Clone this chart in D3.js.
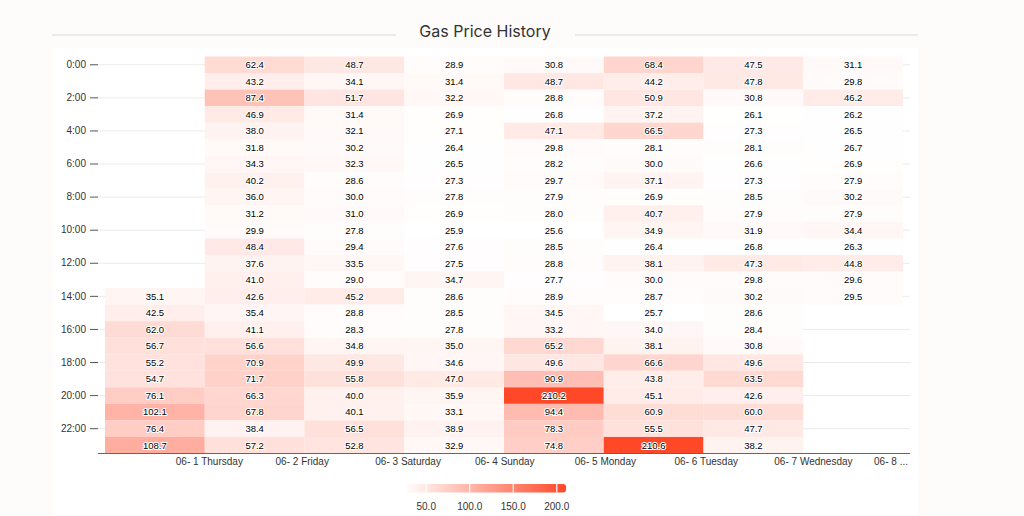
<!DOCTYPE html>
<html>
<head>
<meta charset="utf-8">
<script src="https://d3js.org/d3.v7.min.js"></script>
<style>
  body { margin: 0; background: #fdfcfb; }
  svg { display: block; }
</style>
</head>
<body>
<svg id="chart" width="1024" height="516"></svg>
<script>
// categories
const dates = ["06- 1 Thursday", "06- 2 Friday", "06- 3 Saturday", "06- 4 Sunday",
               "06- 5 Monday", "06- 6 Tuesday", "06- 7 Wednesday", "06- 8 Thursday"];
const hours = ["0:00", "1:00", "2:00", "3:00", "4:00", "5:00", "6:00", "7:00",
               "8:00", "9:00", "10:00", "11:00", "12:00", "13:00", "14:00", "15:00",
               "16:00", "17:00", "18:00", "19:00", "20:00", "21:00", "22:00", "23:00"];
const hourTicks = ["0:00", "2:00", "4:00", "6:00", "8:00", "10:00", "12:00",
                   "14:00", "16:00", "18:00", "20:00", "22:00"];
const legendTicks = [50, 100, 150, 200];

// gas price per hour for each day (null = no data)
const day1 = [null, null, null, null, null, null, null, null, null, null, null, null, null, null,
              35.1, 42.5, 62.0, 56.7, 55.2, 54.7, 76.1, 102.1, 76.4, 108.7];
const day2 = [62.4, 43.2, 87.4, 46.9, 38.0, 31.8, 34.3, 40.2, 36.0, 31.2, 29.9, 48.4,
              37.6, 41.0, 42.6, 35.4, 41.1, 56.6, 70.9, 71.7, 66.3, 67.8, 38.4, 57.2];
const day3 = [48.7, 34.1, 51.7, 31.4, 32.1, 30.2, 32.3, 28.6, 30.0, 31.0, 27.8, 29.4,
              33.5, 29.0, 45.2, 28.8, 28.3, 34.8, 49.9, 55.8, 40.0, 40.1, 56.5, 52.8];
const day4 = [28.9, 31.4, 32.2, 26.9, 27.1, 26.4, 26.5, 27.3, 27.8, 26.9, 25.9, 27.6,
              27.5, 34.7, 28.6, 28.5, 27.8, 35.0, 34.6, 47.0, 35.9, 33.1, 38.9, 32.9];
const day5 = [30.8, 48.7, 28.8, 26.8, 47.1, 29.8, 28.2, 29.7, 27.9, 28.0, 25.6, 28.5,
              28.8, 27.7, 28.9, 34.5, 33.2, 65.2, 49.6, 90.9, 210.2, 94.4, 78.3, 74.8];
const day6 = [68.4, 44.2, 50.9, 37.2, 66.5, 28.1, 30.0, 37.1, 26.9, 40.7, 34.9, 26.4,
              38.1, 30.0, 28.7, 25.7, 34.0, 38.1, 66.6, 43.8, 45.1, 60.9, 55.5, 210.6];
const day7 = [47.5, 47.8, 30.8, 26.1, 27.3, 28.1, 26.6, 27.3, 28.5, 27.9, 31.9, 26.8,
              47.3, 29.8, 30.2, 28.6, 28.4, 30.8, 49.6, 63.5, 42.6, 60.0, 47.7, 38.2];
const day8 = [31.1, 29.8, 46.2, 26.2, 26.5, 26.7, 26.9, 27.9, 30.2, 27.9, 34.4, 26.3,
              44.8, 29.6, 29.5, null, null, null, null, null, null, null, null, null];
const series = [day1, day2, day3, day4, day5, day6, day7, day8];

// flatten into cells
let cells = [];
series.forEach((vals, i) => {
    vals.forEach((v, h) => {
        if (v != null) cells.push({date: dates[i], hour: hours[h], value: v});
    });
});

const svg = d3.select("svg#chart");

// white panel + title
svg.append("rect").attr("x", 53).attr("y", 48).attr("width", 865).attr("height", 468)
    .style("fill", "#ffffff");
svg.append("line").attr("x1", 52).attr("x2", 396).attr("y1", 35).attr("y2", 35)
    .style("stroke", "#ebebeb").style("stroke-width", 2);
svg.append("line").attr("x1", 575).attr("x2", 918).attr("y1", 35).attr("y2", 35)
    .style("stroke", "#ebebeb").style("stroke-width", 2);
svg.append("text").attr("x", 485).attr("y", 37).attr("text-anchor", "middle")
    .style("font-family", "Inter, sans-serif").style("font-size", "16px").style("fill", "#333")
    .text("Gas Price History");

const x = d3.scaleBand().domain(dates).range([105, 903]);
const y = d3.scaleBand().domain(hours).range([56.5, 453.5]);

const extent = d3.extent(cells, d => d.value);
const color = d3.scaleSequential(d3.interpolateRgb("#ffffff", "#ff4828")).domain(extent);

// grid lines
svg.selectAll("line.grid").data(hourTicks).join("line")
    .attr("class", "grid")
    .attr("x1", 98).attr("x2", 910)
    .attr("y1", d => y(d) + y.bandwidth() / 2)
    .attr("y2", d => y(d) + y.bandwidth() / 2)
    .style("stroke", "#ebebeb").style("stroke-width", 1);

// cells
svg.selectAll("rect.cell").data(cells).join("rect")
    .attr("class", "cell")
    .attr("x", d => x(d.date))
    .attr("y", d => y(d.hour))
    .attr("width", x.bandwidth())
    .attr("height", y.bandwidth())
    .style("fill", d => color(d.value));

svg.selectAll("text.val").data(cells).join("text")
    .attr("class", "val")
    .attr("x", d => x(d.date) + x.bandwidth() / 2)
    .attr("y", d => y(d.hour) + y.bandwidth() / 2)
    .attr("dy", "0.35em")
    .attr("text-anchor", "middle")
    .style("font-family", "'Liberation Sans', Arial, sans-serif")
    .style("font-size", "9.5px")
    .style("fill", "#000")
    .style("stroke", "#fff").style("stroke-width", 2).style("paint-order", "stroke")
    .text(d => d.value.toFixed(1));

// y axis
let yAxis = svg.append("g").attr("transform", "translate(98,0)")
    .call(d3.axisLeft(y).tickValues(hourTicks).tickSize(8).tickPadding(4));
yAxis.select(".domain").remove();
yAxis.selectAll("line").style("stroke", "#555");
yAxis.selectAll("text").style("font-family", "'Liberation Sans', Arial, sans-serif")
    .style("font-size", "10px").style("fill", "#333");

// x axis
svg.append("line").attr("x1", 98).attr("x2", 910).attr("y1", 453.5).attr("y2", 453.5)
    .style("stroke", "#666").style("stroke-width", 1.2);
let xAxis = svg.append("g").attr("transform", "translate(0,453.5)")
    .call(d3.axisBottom(x).tickSize(0).tickPadding(4));
xAxis.select(".domain").remove();
xAxis.selectAll("text")
    .attr("text-anchor", "start")
    .attr("x", x.bandwidth() * 0.21)
    .style("font-family", "'Liberation Sans', Arial, sans-serif")
    .style("font-size", "10px").style("fill", "#333")
    .each(function(d) {
        // truncate labels running past the axis end
        let el = d3.select(this);
        let left = x(d) + x.bandwidth() / 2 + x.bandwidth() * 0.21;
        let txt = d;
        while (left + this.getComputedTextLength() > 911 && txt.length > 1) {
            txt = txt.slice(0, -1);
            el.text(txt.trimEnd() + " ...");
        }
    });

// legend
const lx = d3.scaleLinear().domain(extent).range([405, 566]);
let grad = svg.append("defs").append("linearGradient").attr("id", "lg");
grad.append("stop").attr("offset", "0%").attr("stop-color", color(extent[0]));
grad.append("stop").attr("offset", "100%").attr("stop-color", color(extent[1]));
svg.append("rect").attr("x", lx(extent[0])).attr("y", 484)
    .attr("width", lx(extent[1]) - lx(extent[0])).attr("height", 8.5)
    .attr("rx", 3).style("fill", "url(#lg)");
svg.selectAll("line.ltick").data(legendTicks).join("line")
    .attr("class", "ltick")
    .attr("x1", d => lx(d)).attr("x2", d => lx(d))
    .attr("y1", 484).attr("y2", 492.5)
    .style("stroke", "#fff").style("stroke-width", 1.2);
svg.selectAll("text.ltick").data(legendTicks).join("text")
    .attr("class", "ltick")
    .attr("x", d => lx(d)).attr("y", 510)
    .attr("text-anchor", "middle")
    .style("font-family", "'Liberation Sans', Arial, sans-serif")
    .style("font-size", "10px").style("fill", "#333")
    .text(d => d.toFixed(1));
</script>
</body>
</html>
